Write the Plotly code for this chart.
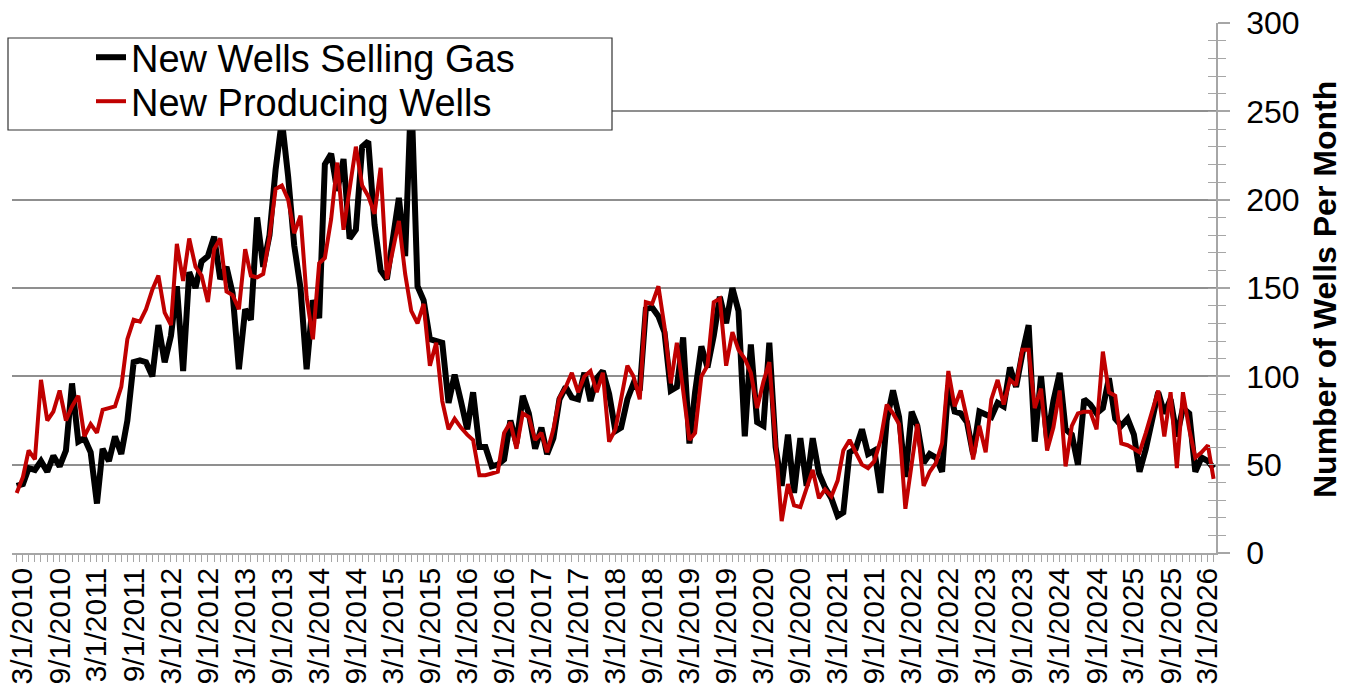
import pandas as pd
import plotly.graph_objects as go

months = pd.date_range("2010-01-01", periods=195, freq="MS")

new_wells_selling_gas = [
    38, 39, 48, 47, 52, 46, 55, 49, 58, 96, 63, 65, 57, 28, 59, 52, 66, 56, 75, 108,
    109, 108, 100, 129, 108, 123, 151, 103, 159, 150, 165, 168, 179, 155, 162, 147, 104, 138, 132, 190,
    162, 180, 217, 245, 213, 174, 150, 104, 143, 133, 220, 226, 205, 223, 178, 183, 230, 233, 186, 160,
    155, 178, 201, 168, 262, 151, 143, 121, 120, 119, 85, 101, 86, 70, 91, 60, 60, 49, 50, 53,
    75, 62, 89, 79, 59, 71, 56, 65, 87, 94, 88, 87, 102, 86, 99, 103, 90, 69, 71, 87,
    96, 92, 138, 139, 134, 125, 92, 94, 122, 62, 91, 117, 105, 123, 145, 130, 150, 137, 66, 118,
    74, 72, 119, 60, 38, 67, 34, 65, 38, 65, 45, 37, 31, 21, 23, 57, 59, 70, 56, 58,
    34, 75, 92, 77, 43, 80, 72, 51, 56, 54, 46, 95, 80, 79, 74, 56, 80, 78, 77, 85,
    83, 105, 94, 113, 129, 63, 100, 64, 86, 102, 70, 67, 50, 87, 84, 79, 82, 99, 76, 72,
    76, 67, 46, 59, 74, 91, 79, 87, 66, 82, 79, 46, 54, 52, 48,
]

new_producing_wells = [
    34, 43, 58, 53, 98, 75, 80, 92, 75, 83, 89, 66, 73, 68, 81, 82, 83, 94, 121, 132,
    131, 138, 149, 157, 136, 129, 175, 154, 178, 162, 157, 142, 172, 178, 148, 146, 138, 172, 157, 156,
    158, 179, 206, 208, 200, 181, 191, 145, 121, 164, 167, 189, 221, 183, 206, 230, 208, 202, 192, 218,
    155, 172, 188, 158, 137, 130, 141, 106, 119, 86, 70, 76, 71, 67, 64, 44, 44, 45, 46, 68,
    74, 59, 79, 77, 64, 68, 57, 70, 88, 94, 102, 91, 100, 103, 91, 102, 63, 70, 87, 106,
    100, 87, 142, 141, 151, 128, 96, 119, 92, 64, 68, 100, 106, 142, 144, 106, 125, 115, 110, 102,
    82, 97, 108, 64, 18, 39, 27, 26, 37, 47, 31, 36, 32, 41, 58, 64, 57, 50, 48, 52,
    64, 84, 79, 73, 25, 52, 73, 38, 46, 51, 62, 103, 83, 92, 76, 53, 72, 57, 87, 98,
    84, 98, 95, 115, 115, 82, 93, 58, 71, 92, 49, 72, 79, 80, 80, 70, 114, 91, 89, 62,
    61, 59, 57, 68, 80, 92, 66, 91, 48, 91, 70, 54, 57, 61, 42,
]

series_names = ["New Wells Selling Gas", "New Producing Wells"]
y_tick_values = [0, 50, 100, 150, 200, 250, 300]
y_title = "Number of Wells Per Month"

FONT = "Liberation Sans, Arial, sans-serif"
GRID = "#8f8f8f"
AXIS = "#a6a6a6"

# plot area in page pixels: x 12..1216, y 23..553
PW, PH = 1204, 530


def px(x):
    return (x - 12) / PW


def py(y):
    return (553 - y) / PH


fig = go.Figure()
fig.add_trace(go.Scatter(x=months, y=new_wells_selling_gas, name=series_names[0], legend="legend",
                         mode="lines", line=dict(color="#000000", width=6)))
fig.add_trace(go.Scatter(x=months, y=new_producing_wells, name=series_names[1], legend="legend2",
                         mode="lines", line=dict(color="#C00000", width=4)))
# empty trace carrying the inside half of the right axis ticks
fig.add_trace(go.Scatter(x=[months[0]], y=[None], yaxis="y2", showlegend=False,
                         hoverinfo="skip", mode="lines"))

legend_common = dict(
    xanchor="left", yanchor="top",
    bgcolor="rgba(0,0,0,0)", borderwidth=0,
    font=dict(size=38, family=FONT, color="black"),
    itemwidth=30,
)

fig.update_layout(
    width=1346, height=687,
    margin=dict(l=12, r=130, t=23, b=134, autoexpand=False),
    paper_bgcolor="white", plot_bgcolor="white",
    font=dict(family=FONT, color="black"),
    showlegend=True,
    legend=dict(x=px(91), y=py(26), **legend_common),
    legend2=dict(x=px(91), y=py(70), **legend_common),
    xaxis=dict(
        type="date", automargin=False,
        range=["2009-12-09", "2026-03-13"],
        tick0="2010-03-01", dtick="M6", tickformat="%-m/%-d/%Y",
        tickangle=-90, tickfont=dict(size=30, family=FONT, color="black"),
        ticklabelshift=-6, ticklabelstandoff=-6, ticklabeloverflow="allow",
        ticks="outside", ticklen=7, tickwidth=1, tickcolor=AXIS,
        minor=dict(dtick="M1", ticks="outside", ticklen=7, tickwidth=1, tickcolor=AXIS, showgrid=False),
        showline=True, linecolor=AXIS, linewidth=1.5,
        showgrid=False, zeroline=False,
    ),
    yaxis=dict(
        side="right", range=[0, 300], tickvals=y_tick_values, automargin=False,
        tickfont=dict(size=32, family=FONT, color="black"),
        ticks="outside", ticklen=12, tickwidth=1.5, tickcolor=AXIS,
        ticklabelstandoff=10, ticklabeloverflow="allow",
        minor=dict(dtick=10, ticks="outside", ticklen=8, tickwidth=1, tickcolor=AXIS),
        showline=True, linecolor=AXIS, linewidth=1.5,
        showgrid=True, gridcolor=GRID, gridwidth=1.5, zeroline=False,
    ),
    yaxis2=dict(
        overlaying="y", side="right", range=[0, 300], tickvals=y_tick_values, automargin=False,
        showticklabels=False, ticks="inside", ticklen=8, tickwidth=1, tickcolor=AXIS,
        minor=dict(dtick=10, ticks="inside", ticklen=8, tickwidth=1, tickcolor=AXIS),
        showgrid=False, zeroline=False, showline=False,
    ),
    shapes=[dict(type="rect", xref="paper", yref="paper",
                 x0=px(8), x1=px(612), y0=py(130), y1=py(38),
                 fillcolor="white", line=dict(color="#333333", width=1.2), layer="above")],
    annotations=[dict(text="<b>" + y_title + "</b>", xref="paper", yref="paper",
                      x=px(1325), y=py(290), textangle=-90,
                      showarrow=False, xanchor="center", yanchor="middle",
                      font=dict(size=32, family=FONT, color="black"))],
)

fig.write_html("out.html", config={"displayModeBar": False},
               post_script="document.body.style.margin='0';")
